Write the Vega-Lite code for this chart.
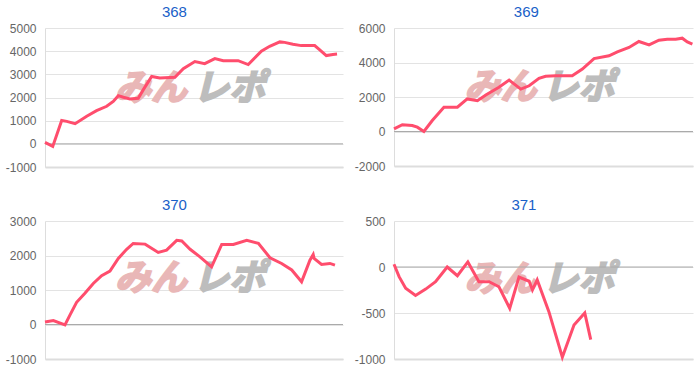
{
  "$schema": "https://vega.github.io/schema/vega-lite/v6.json",
  "padding": {"left": 5, "top": 5, "right": 5, "bottom": 5},
  "background": "white",
  "spacing": 25,
  "config": {
    "font": "Liberation Sans",
    "view": {"stroke": null},
    "concat": {"spacing": 10},
    "title": {"color": "#1a5fc8", "fontSize": 15, "fontWeight": "normal", "font": "Liberation Sans", "frame": "bounds", "anchor": "middle", "offset": 2},
    "axisY": {"gridColor": "#e3e3e3", "domainColor": "#dddddd", "ticks": false, "labelColor": "#666666", "labelFontSize": 12, "labelPadding": 9, "labelOverlap": false, "labelExpr": "'' + datum.value", "title": null, "labelFont": "Liberation Sans"},
    "axisX": {"labels": false, "ticks": false, "grid": false, "domainColor": "#dddddd", "domainWidth": 2, "title": null}
  },
  "datasets": {
    "p368": [
      {"t": 0, "v": 60}, {"t": 2.6, "v": -110}, {"t": 5.6, "v": 1010}, {"t": 7.3, "v": 970}, {"t": 10.1, "v": 870},
      {"t": 14.0, "v": 1190}, {"t": 17.3, "v": 1430}, {"t": 20.7, "v": 1620}, {"t": 22.9, "v": 1830}, {"t": 24.6, "v": 2080},
      {"t": 26.3, "v": 2010}, {"t": 28.5, "v": 1940}, {"t": 31.3, "v": 1970}, {"t": 33.0, "v": 2340}, {"t": 35.8, "v": 2910},
      {"t": 38.5, "v": 2840}, {"t": 43.6, "v": 2870}, {"t": 46.4, "v": 3240}, {"t": 50.3, "v": 3550}, {"t": 53.6, "v": 3460},
      {"t": 57.0, "v": 3680}, {"t": 59.8, "v": 3590}, {"t": 64.8, "v": 3590}, {"t": 68.2, "v": 3420}, {"t": 72.6, "v": 4000},
      {"t": 75.4, "v": 4210}, {"t": 78.8, "v": 4400}, {"t": 80.4, "v": 4380}, {"t": 83.2, "v": 4300}, {"t": 86.0, "v": 4240},
      {"t": 90.5, "v": 4240}, {"t": 92.2, "v": 4060}, {"t": 94.4, "v": 3810}, {"t": 96.6, "v": 3860}, {"t": 98.0, "v": 3880}
    ],
    "p369": [
      {"t": 0, "v": 150}, {"t": 2.8, "v": 390}, {"t": 6.1, "v": 350}, {"t": 7.8, "v": 250}, {"t": 10.0, "v": 0},
      {"t": 12.8, "v": 635}, {"t": 16.7, "v": 1410}, {"t": 21.2, "v": 1410}, {"t": 24.5, "v": 1890}, {"t": 27.9, "v": 1790},
      {"t": 30.7, "v": 2120}, {"t": 35.1, "v": 2560}, {"t": 38.5, "v": 2980}, {"t": 42.4, "v": 2460}, {"t": 45.2, "v": 2650},
      {"t": 48.5, "v": 3080}, {"t": 50.7, "v": 3200}, {"t": 54.1, "v": 3230}, {"t": 59.6, "v": 3230}, {"t": 63.0, "v": 3620},
      {"t": 66.9, "v": 4230}, {"t": 71.9, "v": 4390}, {"t": 74.7, "v": 4620}, {"t": 78.6, "v": 4870}, {"t": 81.9, "v": 5220},
      {"t": 85.3, "v": 5020}, {"t": 88.6, "v": 5290}, {"t": 91.4, "v": 5350}, {"t": 94.2, "v": 5350}, {"t": 96.4, "v": 5410},
      {"t": 98.1, "v": 5190}, {"t": 99.8, "v": 5060}
    ],
    "p370": [
      {"t": 0, "v": 70}, {"t": 2.8, "v": 115}, {"t": 6.7, "v": -10}, {"t": 8.4, "v": 280}, {"t": 10.6, "v": 645},
      {"t": 13.4, "v": 905}, {"t": 16.2, "v": 1190}, {"t": 19.0, "v": 1415}, {"t": 21.8, "v": 1550}, {"t": 24.6, "v": 1915},
      {"t": 27.4, "v": 2180}, {"t": 29.6, "v": 2350}, {"t": 33.6, "v": 2330}, {"t": 38.0, "v": 2090}, {"t": 40.8, "v": 2155},
      {"t": 44.2, "v": 2440}, {"t": 45.9, "v": 2420}, {"t": 48.7, "v": 2180}, {"t": 52.0, "v": 1960}, {"t": 55.9, "v": 1670},
      {"t": 59.3, "v": 2320}, {"t": 63.2, "v": 2320}, {"t": 67.7, "v": 2440}, {"t": 71.6, "v": 2350}, {"t": 75.5, "v": 1935},
      {"t": 79.4, "v": 1770}, {"t": 82.8, "v": 1580}, {"t": 86.1, "v": 1240}, {"t": 88.9, "v": 1865}, {"t": 90.0, "v": 2030},
      {"t": 90.3, "v": 1915}, {"t": 92.8, "v": 1740}, {"t": 95.6, "v": 1770}, {"t": 97.3, "v": 1720}
    ],
    "p371": [
      {"t": 0, "v": 30}, {"t": 1.7, "v": -105}, {"t": 3.9, "v": -230}, {"t": 7.2, "v": -310}, {"t": 10.6, "v": -240},
      {"t": 13.9, "v": -160}, {"t": 17.8, "v": 0}, {"t": 21.2, "v": -95}, {"t": 24.7, "v": 55}, {"t": 28.4, "v": -160},
      {"t": 31.8, "v": -160}, {"t": 35.1, "v": -215}, {"t": 38.7, "v": -450}, {"t": 41.8, "v": -110}, {"t": 45.2, "v": -155},
      {"t": 46.3, "v": -250}, {"t": 47.9, "v": -140}, {"t": 51.8, "v": -485}, {"t": 56.3, "v": -980}, {"t": 60.2, "v": -630},
      {"t": 63.8, "v": -500}, {"t": 65.8, "v": -790}
    ],
    "marks": [
      {"panel": "368", "wx": 48.7, "wy": 2370, "zero": 0, "a": "みん", "b": "レポ"},
      {"panel": "369", "wx": 48.7, "wy": 2520, "zero": 0, "a": "みん", "b": "レポ"},
      {"panel": "370", "wx": 48.7, "wy": 1320, "zero": 0, "a": "みん", "b": "レポ"},
      {"panel": "371", "wx": 48.7, "wy": -142, "zero": 0, "a": "みん", "b": "レポ"}
    ]
  },
  "vconcat": [
    {
      "hconcat": [
        {
          "title": "368",
          "width": 298, "height": 139,
          "layer": [
            {"data": {"name": "marks"}, "transform": [{"filter": "datum.panel === '368'"}],
             "layer": [
               {"mark": {"type": "text", "align": "right", "baseline": "middle", "fontSize": 36, "fontStyle": "italic", "fontWeight": "bold", "font": "Noto Sans CJK JP", "color": "#e9b7b7", "stroke": "#e9b7b7", "strokeWidth": 2, "dx": -3},
                "encoding": {"x": {"field": "wx", "type": "quantitative"}, "y": {"field": "wy", "type": "quantitative", "axis": {"values": [-1000, 0, 1000, 2000, 3000, 4000, 5000]}}, "text": {"field": "a"}}},
               {"mark": {"type": "text", "align": "left", "baseline": "middle", "fontSize": 36, "fontStyle": "italic", "fontWeight": "bold", "font": "Noto Sans CJK JP", "color": "#bdbdbd", "stroke": "#bdbdbd", "strokeWidth": 2, "dx": 3},
                "encoding": {"x": {"field": "wx", "type": "quantitative"}, "y": {"field": "wy", "type": "quantitative", "axis": {"values": [-1000, 0, 1000, 2000, 3000, 4000, 5000]}}, "text": {"field": "b"}}},
               {"mark": {"type": "rule", "color": "#aaaaaa", "strokeWidth": 1},
                "encoding": {"y": {"field": "zero", "type": "quantitative", "axis": {"values": [-1000, 0, 1000, 2000, 3000, 4000, 5000]}}}}
             ]},
            {"data": {"name": "p368"},
             "mark": {"type": "line", "color": "#ff4d6d", "strokeWidth": 3},
             "encoding": {
               "x": {"field": "t", "type": "quantitative", "scale": {"domain": [0, 100], "nice": false}},
               "y": {"field": "v", "type": "quantitative", "scale": {"domain": [-1000, 5000], "nice": false}, "axis": {"values": [-1000, 0, 1000, 2000, 3000, 4000, 5000]}}
             }}
          ]
        },
        {
          "title": "369",
          "width": 299, "height": 138,
          "layer": [
            {"data": {"name": "marks"}, "transform": [{"filter": "datum.panel === '369'"}],
             "layer": [
               {"mark": {"type": "text", "align": "right", "baseline": "middle", "fontSize": 36, "fontStyle": "italic", "fontWeight": "bold", "font": "Noto Sans CJK JP", "color": "#e9b7b7", "stroke": "#e9b7b7", "strokeWidth": 2, "dx": -3},
                "encoding": {"x": {"field": "wx", "type": "quantitative"}, "y": {"field": "wy", "type": "quantitative", "axis": {"values": [-2000, 0, 2000, 4000, 6000]}}, "text": {"field": "a"}}},
               {"mark": {"type": "text", "align": "left", "baseline": "middle", "fontSize": 36, "fontStyle": "italic", "fontWeight": "bold", "font": "Noto Sans CJK JP", "color": "#bdbdbd", "stroke": "#bdbdbd", "strokeWidth": 2, "dx": 3},
                "encoding": {"x": {"field": "wx", "type": "quantitative"}, "y": {"field": "wy", "type": "quantitative", "axis": {"values": [-2000, 0, 2000, 4000, 6000]}}, "text": {"field": "b"}}},
               {"mark": {"type": "rule", "color": "#aaaaaa", "strokeWidth": 1},
                "encoding": {"y": {"field": "zero", "type": "quantitative", "axis": {"values": [-2000, 0, 2000, 4000, 6000]}}}}
             ]},
            {"data": {"name": "p369"},
             "mark": {"type": "line", "color": "#ff4d6d", "strokeWidth": 3},
             "encoding": {
               "x": {"field": "t", "type": "quantitative", "scale": {"domain": [0, 100], "nice": false}},
               "y": {"field": "v", "type": "quantitative", "scale": {"domain": [-2000, 6000], "nice": false}, "axis": {"values": [-2000, 0, 2000, 4000, 6000]}}
             }}
          ]
        }
      ]
    },
    {
      "hconcat": [
        {
          "title": "370",
          "width": 298, "height": 138,
          "layer": [
            {"data": {"name": "marks"}, "transform": [{"filter": "datum.panel === '370'"}],
             "layer": [
               {"mark": {"type": "text", "align": "right", "baseline": "middle", "fontSize": 36, "fontStyle": "italic", "fontWeight": "bold", "font": "Noto Sans CJK JP", "color": "#e9b7b7", "stroke": "#e9b7b7", "strokeWidth": 2, "dx": -3},
                "encoding": {"x": {"field": "wx", "type": "quantitative"}, "y": {"field": "wy", "type": "quantitative", "axis": {"values": [-1000, 0, 1000, 2000, 3000]}}, "text": {"field": "a"}}},
               {"mark": {"type": "text", "align": "left", "baseline": "middle", "fontSize": 36, "fontStyle": "italic", "fontWeight": "bold", "font": "Noto Sans CJK JP", "color": "#bdbdbd", "stroke": "#bdbdbd", "strokeWidth": 2, "dx": 3},
                "encoding": {"x": {"field": "wx", "type": "quantitative"}, "y": {"field": "wy", "type": "quantitative", "axis": {"values": [-1000, 0, 1000, 2000, 3000]}}, "text": {"field": "b"}}},
               {"mark": {"type": "rule", "color": "#aaaaaa", "strokeWidth": 1},
                "encoding": {"y": {"field": "zero", "type": "quantitative", "axis": {"values": [-1000, 0, 1000, 2000, 3000]}}}}
             ]},
            {"data": {"name": "p370"},
             "mark": {"type": "line", "color": "#ff4d6d", "strokeWidth": 3},
             "encoding": {
               "x": {"field": "t", "type": "quantitative", "scale": {"domain": [0, 100], "nice": false}},
               "y": {"field": "v", "type": "quantitative", "scale": {"domain": [-1000, 3000], "nice": false}, "axis": {"values": [-1000, 0, 1000, 2000, 3000]}}
             }}
          ]
        },
        {
          "title": "371",
          "width": 299, "height": 138,
          "layer": [
            {"data": {"name": "marks"}, "transform": [{"filter": "datum.panel === '371'"}],
             "layer": [
               {"mark": {"type": "text", "align": "right", "baseline": "middle", "fontSize": 36, "fontStyle": "italic", "fontWeight": "bold", "font": "Noto Sans CJK JP", "color": "#e9b7b7", "stroke": "#e9b7b7", "strokeWidth": 2, "dx": -3},
                "encoding": {"x": {"field": "wx", "type": "quantitative"}, "y": {"field": "wy", "type": "quantitative", "axis": {"values": [-1000, -500, 0, 500]}}, "text": {"field": "a"}}},
               {"mark": {"type": "text", "align": "left", "baseline": "middle", "fontSize": 36, "fontStyle": "italic", "fontWeight": "bold", "font": "Noto Sans CJK JP", "color": "#bdbdbd", "stroke": "#bdbdbd", "strokeWidth": 2, "dx": 3},
                "encoding": {"x": {"field": "wx", "type": "quantitative"}, "y": {"field": "wy", "type": "quantitative", "axis": {"values": [-1000, -500, 0, 500]}}, "text": {"field": "b"}}},
               {"mark": {"type": "rule", "color": "#aaaaaa", "strokeWidth": 1},
                "encoding": {"y": {"field": "zero", "type": "quantitative", "axis": {"values": [-1000, -500, 0, 500]}}}}
             ]},
            {"data": {"name": "p371"},
             "mark": {"type": "line", "color": "#ff4d6d", "strokeWidth": 3},
             "encoding": {
               "x": {"field": "t", "type": "quantitative", "scale": {"domain": [0, 100], "nice": false}},
               "y": {"field": "v", "type": "quantitative", "scale": {"domain": [-1000, 500], "nice": false}, "axis": {"values": [-1000, -500, 0, 500]}}
             }}
          ]
        }
      ]
    }
  ]
}
